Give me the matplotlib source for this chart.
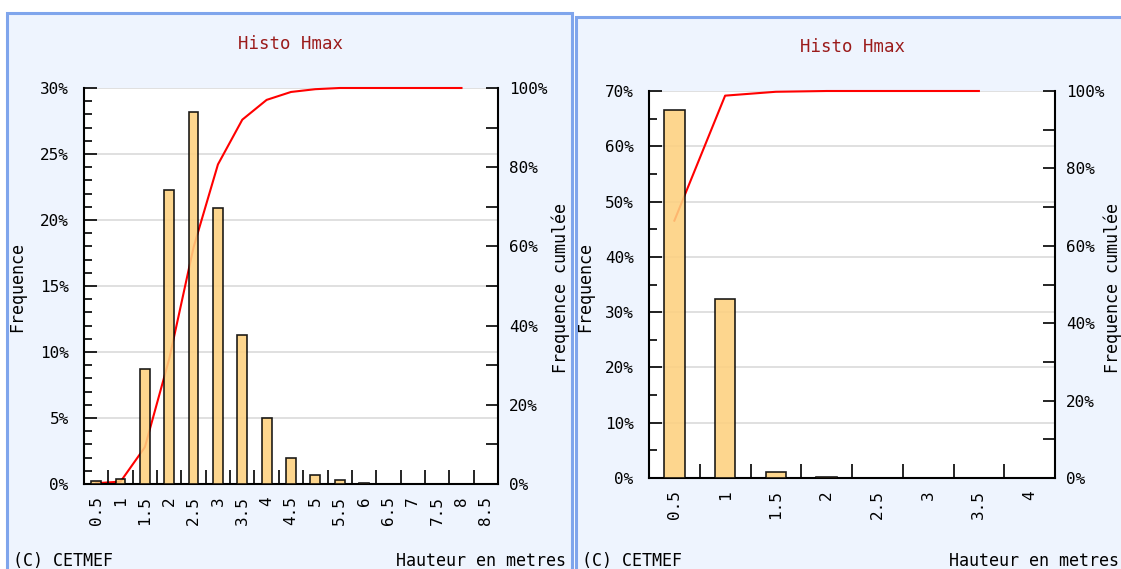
import numpy as np
import matplotlib.pyplot as plt
from matplotlib.patches import Rectangle
from matplotlib.ticker import MultipleLocator, FixedLocator, NullFormatter, FuncFormatter

# Data
labels_a = ['0.5', '1', '1.5', '2', '2.5', '3', '3.5', '4', '4.5',
            '5', '5.5', '6', '6.5', '7', '7.5', '8', '8.5']
freq_a = [0.2, 0.4, 8.7, 22.3, 28.2, 20.9, 11.3, 5.0, 2.0,
          0.7, 0.3, 0.1, 0.0, 0.0, 0.0, 0.0, 0.0]

labels_b = ['0.5', '1', '1.5', '2', '2.5', '3', '3.5', '4']
freq_b = [66.5, 32.3, 1.0, 0.2, 0.0, 0.0, 0.0, 0.0]

W, H = 1121, 569
fig = plt.figure(figsize=(W / 100, H / 100), dpi=100)
fig.patch.set_facecolor('white')

mono = 'DejaVu Sans Mono'
panel_bg = '#eef4fe'
border = '#7fa5ec'
bar_col = '#fdd17f'
fs = 11.5


def px(x0, y0, x1, y1):
    return [x0 / W, 1 - y1 / H, (x1 - x0) / W, (y1 - y0) / H]


def panel(x0, y0, x1, y1):
    r = Rectangle((x0 / W, 1 - y1 / H), (x1 - x0) / W, (y1 - y0) / H,
                  transform=fig.transFigure, facecolor=panel_bg,
                  edgecolor=border, linewidth=2.2, zorder=0)
    fig.add_artist(r)


def histo(rect, labels, freq, ymax, ymajor, yminor, title_xy, ylab2_x,
          lab1_x, foot_left, foot_right):
    n = len(labels)
    x = np.arange(n)
    cum = np.minimum(np.cumsum(freq), 100)

    ax2 = fig.add_axes(rect)
    ax = fig.add_axes(rect)
    ax.set_zorder(ax2.get_zorder() + 1)
    ax.patch.set_visible(False)
    ax2.set_facecolor('white')

    ax.set_xlim(-0.5, n - 0.5)
    ax.set_ylim(0, ymax)
    ax.yaxis.set_major_locator(MultipleLocator(ymajor))
    ax.yaxis.set_minor_locator(MultipleLocator(yminor))

    # grid lines follow the left scale but sit under the curve
    ax2.hlines(ax.get_yticks(), 0, 1, transform=ax.get_yaxis_transform(),
               color='#dddddd', lw=1.3, zorder=0)

    # cumulative curve (right scale), stops one class before the end
    ax2.plot(x[:-1], cum[:-1], color='red', lw=1.5, zorder=2, clip_on=False)
    ax2.set_ylim(0, 100)
    ax2.set_xlim(-0.5, n - 0.5)
    ax2.yaxis.tick_right()
    ax2.yaxis.set_major_locator(MultipleLocator(20))
    ax2.yaxis.set_minor_locator(MultipleLocator(10))
    ax2.yaxis.set_major_formatter(FuncFormatter(lambda v, p: '%d%%' % v))
    ax2.tick_params(axis='y', which='both', direction='in', length=9,
                    width=1.2, labelsize=fs, pad=8)
    ax2.tick_params(axis='x', which='both', length=0, labelbottom=False)
    for s in ax2.spines.values():
        s.set_visible(False)
    ax2.spines['right'].set_visible(True)
    ax2.spines['right'].set_linewidth(1.5)

    # bars (left scale)
    ax.bar(x, freq, width=0.4, color=bar_col, edgecolor='black',
           linewidth=1.2, alpha=0.88, zorder=3)
    ax.yaxis.set_major_formatter(FuncFormatter(lambda v, p: '%d%%' % round(v)))
    ax.tick_params(axis='y', which='both', direction='in', width=1.2,
                   labelsize=fs, pad=11)
    ax.tick_params(axis='y', which='major', length=9)
    ax.tick_params(axis='y', which='minor', length=6)

    # class boundaries as ticks, labels at class centres
    ax.xaxis.set_major_locator(FixedLocator(np.arange(0.5, n - 0.5, 1)))
    ax.xaxis.set_major_formatter(NullFormatter())
    ax.xaxis.set_minor_locator(FixedLocator(x))
    ax.set_xticklabels(labels, minor=True, rotation=90, fontsize=fs,
                       family=mono)
    ax.tick_params(axis='x', which='major', direction='in', length=10,
                   width=1.2)
    ax.tick_params(axis='x', which='minor', length=0, pad=9)

    ax.spines['left'].set_linewidth(1.5)
    ax.spines['bottom'].set_linewidth(1.5)
    ax.spines['top'].set_visible(False)
    ax.spines['right'].set_visible(False)

    for lab in ax.get_yticklabels() + ax2.get_yticklabels():
        lab.set_family(mono)

    fig.text(title_xy[0] / W, 1 - title_xy[1] / H, 'Histo Hmax',
             color='#9b1b1b', fontsize=12.5, family=mono, ha='center',
             va='center')
    fig.text(lab1_x / W, 1 - 287 / H, 'Frequence', rotation=90,
             fontsize=12, family=mono, ha='center', va='center')
    fig.text(ylab2_x / W, 1 - 288 / H, 'Frequence cumulée', rotation=90,
             fontsize=12, family=mono, ha='center', va='center')
    fig.text(foot_left / W, 1 - 561 / H, '(C) CETMEF', fontsize=12,
             family=mono, ha='left', va='center')
    fig.text(foot_right / W, 1 - 561 / H, 'Hauteur en metres', fontsize=12,
             family=mono, ha='right', va='center')


panel(7, 13, 572, 600)
panel(576, 17, 1140, 600)

histo(px(84, 88, 498, 484), labels_a, freq_a, 30, 5, 1,
      (291, 44), 561, 17, 13, 566)
histo(px(649, 91, 1055, 478), labels_b, freq_b, 70, 10, 5,
      (853, 47), 1113, 585, 582, 1119)

fig.savefig('out.png', dpi=100, facecolor=fig.get_facecolor())
